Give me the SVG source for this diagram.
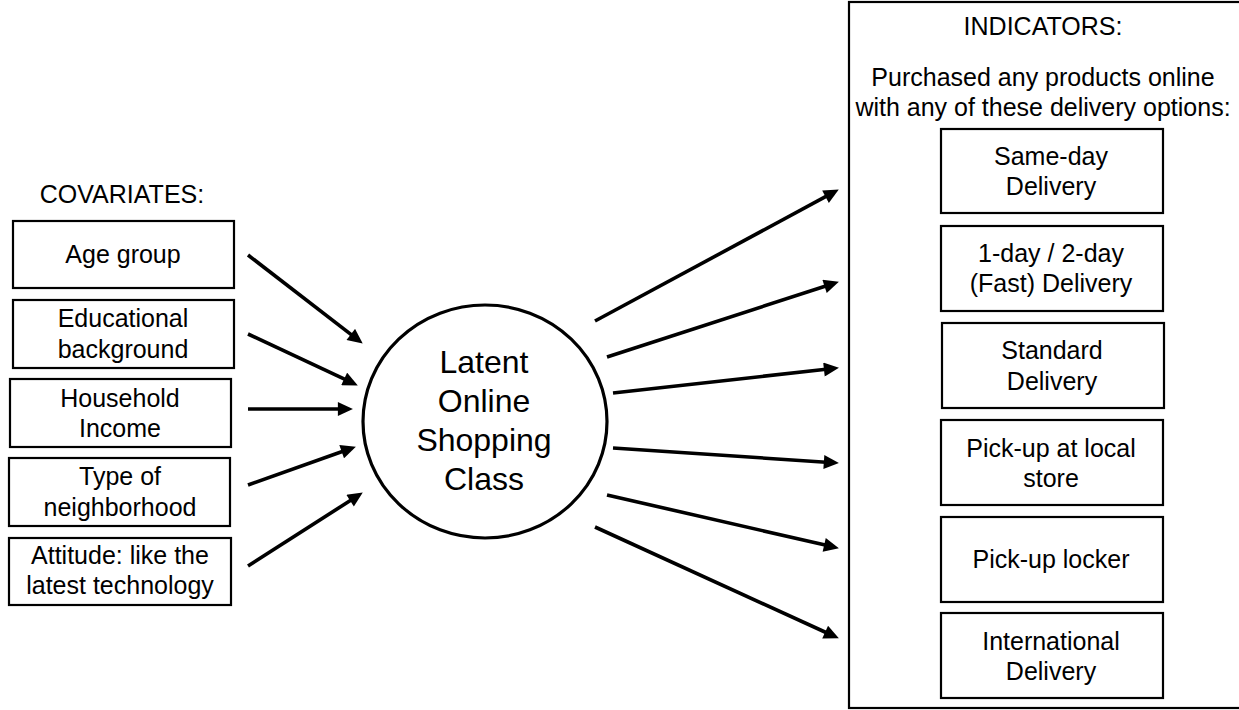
<svg xmlns="http://www.w3.org/2000/svg" width="1239" height="710" viewBox="0 0 1239 710">
<defs>
<style>
text{font-family:"Liberation Sans",Arial,Helvetica,sans-serif;font-size:25px;fill:#000;text-anchor:middle}
.box{fill:#fff;stroke:#000;stroke-width:2.2}
.big{font-size:32px}
.conn line{stroke:#000;stroke-width:3.6;marker-end:url(#ah)}
</style>
<marker id="ah" markerUnits="userSpaceOnUse" markerWidth="16" markerHeight="14" refX="2" refY="6.5" orient="auto" viewBox="0 0 14 13">
<path d="M0,0 L14,6.5 L0,13 z" fill="#000"/>
</marker>
</defs>
<rect width="1239" height="710" fill="#fff"/>

<g id="covariates-title"><text x="122" y="203">COVARIATES:</text></g>

<g id="age"><rect class="box" x="13" y="221" width="221" height="67"/><text x="123" y="263">Age group</text></g>
<g id="education"><rect class="box" x="13" y="300" width="221" height="68"/><text x="123" y="327">Educational</text><text x="123" y="358">background</text></g>
<g id="income"><rect class="box" x="10" y="379" width="221" height="68"/><text x="120" y="407">Household</text><text x="120" y="437">Income</text></g>
<g id="neighborhood"><rect class="box" x="9" y="458" width="221" height="68"/><text x="120" y="485">Type of</text><text x="120" y="516">neighborhood</text></g>
<g id="attitude"><rect class="box" x="9" y="538" width="222" height="67"/><text x="120" y="564">Attitude: like the</text><text x="120" y="594">latest technology</text></g>

<g id="latent"><ellipse cx="485" cy="421.5" rx="122" ry="116.5" fill="#fff" stroke="#000" stroke-width="3.2"/>
<text class="big" x="484" y="373">Latent</text><text class="big" x="484" y="412">Online</text><text class="big" x="484" y="451">Shopping</text><text class="big" x="484" y="490">Class</text></g>

<g id="indicators"><rect class="box" x="849" y="2" width="400" height="706"/>
<text x="1043" y="35">INDICATORS:</text>
<text x="1043" y="86">Purchased any products online</text>
<text x="1043" y="116">with any of these delivery options:</text></g>

<g id="same-day"><rect class="box" x="941" y="129" width="222" height="84"/><text x="1051" y="165">Same-day</text><text x="1051" y="195">Delivery</text></g>
<g id="fast"><rect class="box" x="941" y="226" width="222" height="85"/><text x="1051" y="262">1-day / 2-day</text><text x="1051" y="292">(Fast) Delivery</text></g>
<g id="standard"><rect class="box" x="942" y="323" width="222" height="85"/><text x="1052" y="359">Standard</text><text x="1052" y="390">Delivery</text></g>
<g id="local-store"><rect class="box" x="941" y="420" width="222" height="85"/><text x="1051" y="457">Pick-up at local</text><text x="1051" y="487">store</text></g>
<g id="locker"><rect class="box" x="941" y="517" width="222" height="85"/><text x="1051" y="568">Pick-up locker</text></g>
<g id="international"><rect class="box" x="941" y="613" width="222" height="85"/><text x="1051" y="650">International</text><text x="1051" y="680">Delivery</text></g>

<g id="connectors" class="conn">
<line x1="248" y1="255" x2="352.5" y2="335.7"/>
<line x1="248" y1="334" x2="346.1" y2="379.9"/>
<line x1="248" y1="409" x2="340" y2="409"/>
<line x1="248" y1="485" x2="343.7" y2="451"/>
<line x1="248" y1="566" x2="351.9" y2="499.5"/>
<line x1="595" y1="321" x2="827.4" y2="195.7"/>
<line x1="607" y1="357" x2="826.6" y2="285.7"/>
<line x1="613" y1="393" x2="826.1" y2="369.3"/>
<line x1="613" y1="448" x2="826" y2="462.2"/>
<line x1="607" y1="495" x2="826.3" y2="545.3"/>
<line x1="595" y1="527" x2="827.1" y2="633"/>
</g>
</svg>
